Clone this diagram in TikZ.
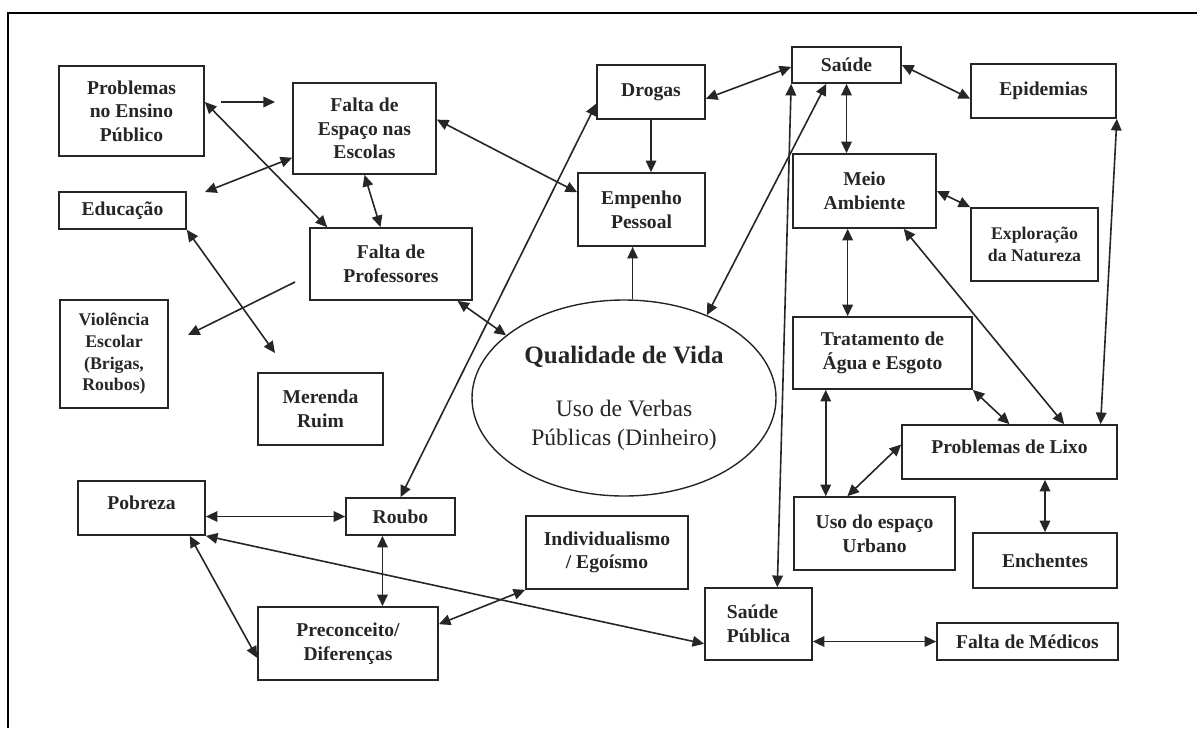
\documentclass[tikz,border=0pt]{standalone}
\usepackage{fontspec}
\setmainfont{Liberation Serif}
\usetikzlibrary{arrows.meta,shapes.geometric}

\begin{document}
\begin{tikzpicture}[x=0.5pt,y=-0.5pt,>={Triangle[length=5.8pt,width=5.3pt]},
  color=black!85,line width=0.8pt,
  box/.style={draw,rectangle,line width=0.85pt,align=center,inner sep=2pt,
    font=\fontsize{9.8}{11.8}\selectfont\bfseries},
  small/.style={font=\fontsize{8.9}{10.8}\selectfont\bfseries},
  raised/.style={text depth=5pt}]
  \useasboundingbox (0,0) rectangle (1197,728);
  \draw[line width=0.8pt,black] (7.7,728) -- (7.7,12.7) -- (1197,12.7);

  % Escola
  \node[box,minimum width=72.5pt,minimum height=45pt] (prob) at (131.5,111) {Problemas\\no Ensino\\Público};
  \node[box,minimum width=71.5pt,minimum height=45.5pt] (espaco) at (364.5,128.5) {Falta de\\Espaço nas\\Escolas};
  \node[box,minimum width=63.5pt,minimum height=18.5pt] (educ) at (122.5,210.5) {Educação};
  \node[box,minimum width=81pt,minimum height=36pt] (profs) at (391,264) {Falta de\\Professores};
  \node[box,small,minimum width=54pt,minimum height=54pt] (viol) at (114,354) {Violência\\Escolar\\(Brigas,\\Roubos)};
  \node[box,minimum width=62.5pt,minimum height=36pt] (merenda) at (320.5,409) {Merenda\\Ruim};

  % Sociedade
  \node[box,raised,minimum width=63.5pt,minimum height=27pt] (pobreza) at (141.5,508) {Pobreza};
  \node[box,minimum width=54.5pt,minimum height=18.5pt] (roubo) at (400.5,516.5) {Roubo};
  \node[box,minimum width=90pt,minimum height=36.5pt] (precon) at (348,643.5) {Preconceito/\\Diferenças};
  \node[box,minimum width=81pt,minimum height=36.5pt] (indiv) at (607,552.5) {Individualismo\\/ Egoísmo};
  \node[box,minimum width=54pt,minimum height=27pt] (drogas) at (651,92) {Drogas};
  \node[box,minimum width=63.5pt,minimum height=36.5pt] (empenho) at (641.5,209.5) {Empenho\\Pessoal};

  % Centro
  \node[draw,ellipse,line width=0.7pt,minimum width=152pt,minimum height=98pt,align=center,
    font=\fontsize{11.8}{14.5}\selectfont] (qv) at (624,398)
    {{\fontsize{12.5}{15}\selectfont\bfseries Qualidade de Vida}\\[12pt]
     Uso de Verbas\\Públicas (Dinheiro)};

  % Saude e ambiente
  \node[box,minimum width=54.5pt,minimum height=18pt] (saude) at (846.5,65) {Saúde};
  \node[box,minimum width=72.5pt,minimum height=27pt] (epid) at (1043.5,91) {Epidemias};
  \node[box,minimum width=71.5pt,minimum height=37pt] (meio) at (864.5,191) {Meio\\Ambiente};
  \node[box,small,minimum width=63.5pt,minimum height=36.5pt] (explor) at (1034.5,244.5) {Exploração\\da Natureza};
  \node[box,minimum width=89.5pt,minimum height=36pt] (trat) at (882.5,353) {Tratamento de\\Água e Esgoto};
  \node[box,raised,minimum width=107.5pt,minimum height=27pt] (lixo) at (1009.5,452) {Problemas de Lixo};
  \node[box,minimum width=80.5pt,minimum height=36.5pt] (urbano) at (874.5,533.5) {Uso do espaço\\Urbano};
  \node[box,minimum width=72pt,minimum height=27.5pt] (enchentes) at (1045,560.5) {Enchentes};
  \node[box,align=left,minimum width=53.5pt,minimum height=36pt] (saudepub) at (758.5,624) {Saúde\\Pública};
  \node[box,minimum width=90.5pt,minimum height=18.5pt] (medicos) at (1027.5,641.5) {Falta de Médicos};

  % Ensino
  \coordinate (pa) at (221,102);
  \coordinate (pb) at (275,102);
  \draw[->] (pa) -- (pb);
  \draw[<->] (prob.7) -- (profs.150);
  \coordinate (ed) at (205,192);
  \draw[<->] (espaco.202) -- (ed);
  \draw[<->] (espaco.south) -- (profs.106);
  \draw[<->] (espaco.7) -- (empenho.165);
  \coordinate (me) at (275,353);
  \draw[<->] (educ.south east) -- (me);
  \coordinate (pv1) at (295,282);
  \coordinate (pv2) at (188,335);
  \draw[->] (pv1) -- (pv2);
  \draw[<->] (profs.331) -- (qv.152);

  % Roubo e pobreza
  \draw[<->] (roubo.north) -- (drogas.192);
  \draw[<->] (roubo.west -| pobreza.east) -- (roubo.west);
  \draw[<->] (pobreza.south east) -- (saudepub.200);
  \draw[<->] (pobreza.330) -- (precon.189);
  \draw[<->] (roubo.227) -- (roubo.227 |- precon.north);
  \draw[<->] (precon.12) -- (indiv.south west);

  % Drogas e saude
  \draw[->] (drogas.south) -- (drogas.south |- empenho.north);
  \draw[->] (qv.85) -- (qv.85 |- empenho.south);
  \draw[<->] (drogas.353) -- (saude.182);
  \draw[<->] (saude.east) -- (epid.186);
  \draw[<->] (saude.south) -- (saude.south |- meio.north);
  \draw[<->] (saude.223) -- (qv.45);
  \draw[<->] (saude.south west) -- (saudepub.63);
  \draw[<->] (epid.south east) -- (lixo.17);

  % Meio ambiente
  \draw[<->] (meio.east) -- (explor.north west);
  \draw[<->] (meio.246) -- (meio.246 |- trat.north);
  \draw[<->] (meio.316) -- (lixo.27);
  \draw[<->] (trat.south east) -- (lixo.north);
  \draw[<->] (trat.213) -- (trat.213 |- urbano.north);
  \draw[<->] (urbano.126) -- (lixo.176);
  \draw[<->] (enchentes.north |- lixo.south) -- (enchentes.north);
  \draw[<->] (medicos.west -| saudepub.east) -- (medicos.west);
\end{tikzpicture}
\end{document}
